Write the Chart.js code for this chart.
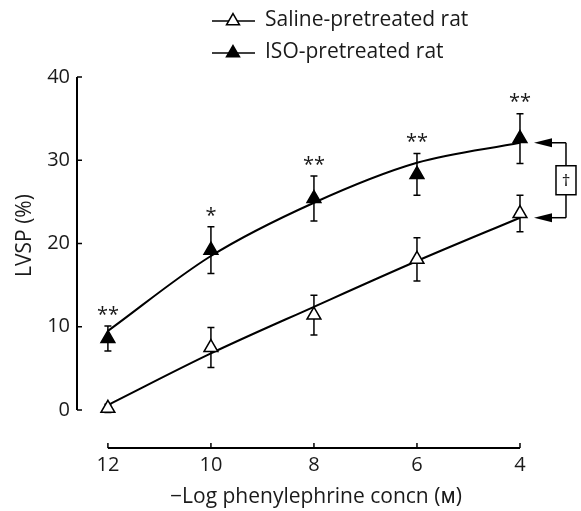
<!DOCTYPE html>
<html>
<head>
<meta charset="utf-8">
<script src="https://cdn.jsdelivr.net/npm/chart.js@4.4.0/dist/chart.umd.min.js"></script>
<style>
  html, body { margin:0; padding:0; background:#fff; }
  #wrap { width:581px; height:511px; }
</style>
</head>
<body>
<div id="wrap"><canvas id="chart" width="581" height="511"></canvas></div>
<script>
// data
const concn = [12, 10, 8, 6, 4];               // -log phenylephrine concn (M)
const seriesNames = ['Saline-pretreated rat', 'ISO-pretreated rat'];
const salineMean = [0.2, 7.5, 11.4, 18.1, 23.6];
const salineErr  = [0.5, 2.4, 2.4, 2.6, 2.2];
const isoMean    = [8.6, 19.2, 25.4, 28.3, 32.6];
const isoErr     = [1.5, 2.8, 2.7, 2.5, 3.0];
const salineFit  = [0.6, 6.8, 12.4, 17.9, 23.1];
const isoFit     = [9.5, 18.5, 24.9, 29.7, 32.1];
const isoStars   = ['**', '*', '**', '**', '**'];
const yTicks = [0, 10, 20, 30, 40];
const xTicks = [12, 10, 8, 6, 4];
const xTitle = '\u2212Log phenylephrine concn (\u1D0D)';
const yTitle = 'LVSP (%)';
const sigMark = '\u2020';

const FONT = '"Open Sans", "Noto Sans", sans-serif';
Chart.defaults.font.family = FONT;
Chart.defaults.color = '#1a1a1a';

const pts = (ys) => concn.map((x, i) => ({ x: x, y: ys[i] }));

function tri(ctx, x, y, r, fill){
  // same geometry as chart.js 'triangle' point style
  ctx.beginPath();
  let rad = 0;
  ctx.moveTo(x + Math.sin(rad) * r, y - Math.cos(rad) * r);
  rad += Math.PI * 2 / 3;
  ctx.lineTo(x + Math.sin(rad) * r, y - Math.cos(rad) * r);
  rad += Math.PI * 2 / 3;
  ctx.lineTo(x + Math.sin(rad) * r, y - Math.cos(rad) * r);
  ctx.closePath();
  ctx.fillStyle = fill; ctx.fill();
  ctx.lineWidth = 1.5; ctx.strokeStyle = '#000'; ctx.stroke();
}

const decor = {
  id: 'decor',
  beforeDatasetsDraw(chart){
    const ctx = chart.ctx, xs = chart.scales.x, ys = chart.scales.y;
    ctx.save();
    ctx.strokeStyle = '#000';
    // axes (offset style)
    ctx.lineWidth = 2;
    const ax = xs.left, ay = ys.getPixelForValue(0), by = ys.bottom;
    ctx.beginPath();
    ctx.moveTo(ax, ys.getPixelForValue(yTicks[yTicks.length-1]));
    ctx.lineTo(ax, ay);
    ctx.moveTo(xs.getPixelForValue(xTicks[0]), by);
    ctx.lineTo(xs.getPixelForValue(xTicks[xTicks.length-1]), by);
    ctx.stroke();
    ctx.lineWidth = 1.5;
    ctx.beginPath();
    yTicks.forEach(v => { const p = ys.getPixelForValue(v); ctx.moveTo(ax, p); ctx.lineTo(ax + 5, p); });
    xTicks.forEach(v => { const p = xs.getPixelForValue(v); ctx.moveTo(p, by); ctx.lineTo(p, by - 5); });
    ctx.stroke();

    // error bars
    ctx.lineWidth = 1.5;
    [[salineMean, salineErr], [isoMean, isoErr]].forEach(([m, e]) => {
      concn.forEach((c, i) => {
        const px = xs.getPixelForValue(c);
        const t = ys.getPixelForValue(m[i] + e[i]), b = ys.getPixelForValue(m[i] - e[i]);
        ctx.beginPath();
        ctx.moveTo(px, t); ctx.lineTo(px, b);
        ctx.moveTo(px - 3.5, t); ctx.lineTo(px + 3.5, t);
        ctx.moveTo(px - 3.5, b); ctx.lineTo(px + 3.5, b);
        ctx.stroke();
      });
    });
    ctx.restore();
  },
  afterDraw(chart){
    const ctx = chart.ctx, xs = chart.scales.x, ys = chart.scales.y;
    ctx.save();
    ctx.fillStyle = '#1a1a1a';
    // significance stars
    ctx.font = '20px ' + FONT;
    ctx.textAlign = 'center'; ctx.textBaseline = 'middle';
    concn.forEach((c, i) => {
      ctx.fillText(isoStars[i], xs.getPixelForValue(c), ys.getPixelForValue(isoMean[i] + isoErr[i]) - 11);
    });

    // titles
    ctx.font = '21px ' + FONT;
    ctx.fillText(xTitle, (xs.getPixelForValue(xTicks[0]) + xs.getPixelForValue(xTicks[xTicks.length-1])) / 2 + 2, 497);
    ctx.save();
    ctx.translate(25, (ys.getPixelForValue(0) + ys.getPixelForValue(40)) / 2 - 8);
    ctx.rotate(-Math.PI / 2);
    ctx.fillText(yTitle, 0, 0);
    ctx.restore();

    // legend
    ctx.textAlign = 'left';
    [[21, '#fff'], [53, '#000']].forEach(([y, fill], i) => {
      ctx.strokeStyle = '#000'; ctx.lineWidth = 1.5;
      ctx.beginPath(); ctx.moveTo(212, y); ctx.lineTo(255, y); ctx.stroke();
      tri(ctx, 233, y, 7.5, fill);
      ctx.fillStyle = '#1a1a1a';
      ctx.fillText(seriesNames[i], 265, y - 1);
    });

    // bracket with dagger between curve ends
    const xe = xs.getPixelForValue(concn[concn.length-1]);
    const tip = xe + 14, vx = xe + 46;
    const y1 = ys.getPixelForValue(isoFit[isoFit.length-1]);
    const y2 = ys.getPixelForValue(salineFit[salineFit.length-1]);
    ctx.strokeStyle = '#000'; ctx.fillStyle = '#000'; ctx.lineWidth = 1.5;
    [y1, y2].forEach(y => {
      ctx.beginPath(); ctx.moveTo(tip + 17, y); ctx.lineTo(vx, y); ctx.stroke();
      ctx.beginPath(); ctx.moveTo(tip, y); ctx.lineTo(tip + 18, y - 4.5); ctx.lineTo(tip + 18, y + 4.5); ctx.closePath(); ctx.fill();
    });
    ctx.beginPath(); ctx.moveTo(vx, y1); ctx.lineTo(vx, y2); ctx.stroke();
    const my = (y1 + y2) / 2;
    ctx.fillStyle = '#fff';
    ctx.fillRect(vx - 10, my - 14.5, 20, 29);
    ctx.strokeRect(vx - 10, my - 14.5, 20, 29);
    ctx.fillStyle = '#000';
    ctx.font = '17px ' + FONT;
    ctx.textAlign = 'center'; ctx.textBaseline = 'middle';
    ctx.fillText(sigMark, vx, my + 1);
    ctx.restore();
  }
};

new Chart(document.getElementById('chart').getContext('2d'), {
  type: 'scatter',
  data: {
    datasets: [
      { label: seriesNames[0] + ' fit', data: pts(salineFit), showLine: true, pointRadius: 0,
        borderColor: '#000', borderWidth: 2, cubicInterpolationMode: 'monotone', order: 2 },
      { label: seriesNames[1] + ' fit', data: pts(isoFit), showLine: true, pointRadius: 0,
        borderColor: '#000', borderWidth: 2, cubicInterpolationMode: 'monotone', order: 2 },
      { label: seriesNames[0], data: pts(salineMean), pointStyle: 'triangle', pointRadius: 8,
        backgroundColor: '#fff', borderColor: '#000', borderWidth: 1.5, order: 1 },
      { label: seriesNames[1], data: pts(isoMean), pointStyle: 'triangle', pointRadius: 8,
        backgroundColor: '#000', borderColor: '#000', borderWidth: 1.5, order: 1 }
    ]
  },
  options: {
    responsive: false,
    animation: false,
    layout: { padding: { top: 77, right: 6, left: 0, bottom: 0 } },
    plugins: { legend: { display: false }, tooltip: { enabled: false } },
    scales: {
      x: {
        type: 'linear', reverse: true, min: 3.0, max: 12.6,
        grid: { display: false, drawTicks: false }, border: { display: false },
        afterBuildTicks: s => { s.ticks = xTicks.map(v => ({ value: v })); },
        afterFit: s => { s.height = 63; },
        ticks: { font: { size: 20 }, color: '#1a1a1a', padding: 5, maxRotation: 0 }
      },
      y: {
        min: -4.56, max: 40,
        grid: { display: false, drawTicks: false }, border: { display: false },
        afterBuildTicks: s => { s.ticks = yTicks.map(v => ({ value: v })); },
        afterFit: s => { s.width = 77; },
        ticks: { font: { size: 20 }, color: '#1a1a1a', padding: 7 }
      }
    }
  },
  plugins: [decor]
});
</script>
</body>
</html>
